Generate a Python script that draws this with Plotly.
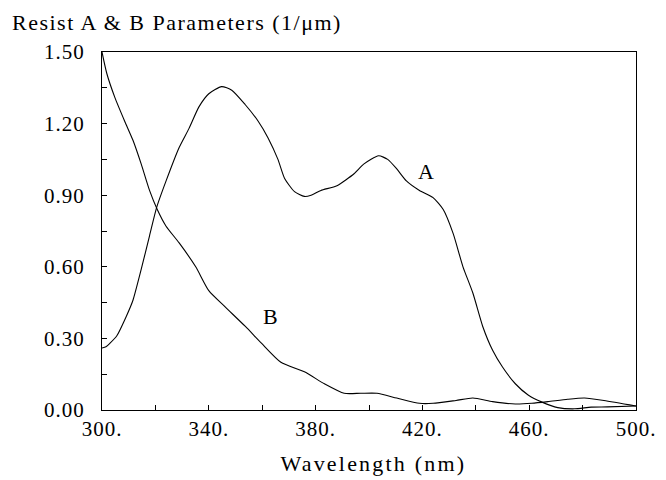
import plotly.graph_objects as go

# ---- data ----
wl_a = [300, 301.5, 303, 305.5, 309, 311.6, 314.7, 317.8, 320.5, 324, 328.9, 332.6, 336.3, 340,
        344.8, 348.6, 353.6, 358.5, 362.2, 365.9, 368.4, 372.1, 375.8, 378.3, 382, 388, 394.4,
        398, 403.6, 407, 410.4, 414, 418.9, 424, 427.8, 431.5, 435.2, 438.9, 442.6, 446.3, 450,
        454.8, 459.6, 464.8, 470.7, 477, 483.2, 489.3, 500]
res_a = [0.26, 0.265, 0.28, 0.31, 0.39, 0.46, 0.59, 0.73, 0.85, 0.96, 1.10, 1.18, 1.27, 1.325,
         1.355, 1.34, 1.28, 1.21, 1.14, 1.05, 0.97, 0.915, 0.895, 0.90, 0.92, 0.94, 0.99,
         1.03, 1.065, 1.05, 1.01, 0.96, 0.92, 0.89, 0.84, 0.74, 0.60, 0.49, 0.35, 0.25, 0.18,
         0.11, 0.063, 0.033, 0.01, 0.005, 0.012, 0.013, 0.017]

wl_b = [300, 301.8, 304.8, 308.5, 311.6, 314.7, 317.8, 320.7, 324, 328.9, 335.1, 340, 346.3,
        353.7, 359.7, 367, 375.8, 383.3, 390.7, 396.9, 403, 410.4, 418.9, 424, 432.6, 438.9,
        446.3, 454.8, 461, 467, 474.4, 480.7, 488, 500]
res_b = [1.50, 1.41, 1.31, 1.21, 1.13, 1.03, 0.92, 0.84, 0.77, 0.70, 0.60, 0.50, 0.43,
         0.35, 0.28, 0.20, 0.16, 0.11, 0.07, 0.07, 0.07, 0.05, 0.028, 0.028, 0.04, 0.05,
         0.035, 0.025, 0.028, 0.035, 0.045, 0.05, 0.04, 0.017]

x_tick_vals = [300, 340, 380, 420, 460, 500]
x_tick_text = ["300.", "340.", "380.", "420.", "460.", "500."]
y_tick_vals = [0.0, 0.3, 0.6, 0.9, 1.2, 1.5]
y_tick_text = ["0.00", "0.30", "0.60", "0.90", "1.20", "1.50"]

curve_labels = ["A", "B"]
label_x = [421.5, 363]
label_y = [1.0, 0.39]

title_text = "Resist A & B Parameters (1/μm)"
x_title_text = "Wavelength (nm)"

FONT = "Liberation Serif, Times New Roman, serif"

fig = go.Figure()
fig.add_trace(go.Scatter(x=wl_a, y=res_a, mode="lines", line=dict(color="black", width=1.1, shape="spline", smoothing=0.6),
                         name="A", showlegend=False, hoverinfo="skip"))
fig.add_trace(go.Scatter(x=wl_b, y=res_b, mode="lines", line=dict(color="black", width=1.1, shape="spline", smoothing=0.6),
                         name="B", showlegend=False, hoverinfo="skip"))

for t, xv, yv in zip(curve_labels, label_x, label_y):
    fig.add_annotation(x=xv, y=yv, xref="x", yref="y", text=t, showarrow=False,
                       font=dict(family=FONT, size=22, color="black"))

fig.add_annotation(x=0.5 + 5 / 540, y=-(463 - 410) / 358, xref="paper", yref="paper", text=x_title_text,
                   showarrow=False, xanchor="center", yanchor="middle",
                   font=dict(family=FONT, size=22, color="black"))

fig.update_layout(
    width=666, height=480,
    margin=dict(l=102, r=24, t=52, b=70),
    paper_bgcolor="white", plot_bgcolor="white",
    font=dict(family=FONT, size=21, color="black"),
    title=dict(text=title_text, x=12 / 666, xanchor="left", xref="container",
               y=1 - 22 / 480, yanchor="middle", yref="container",
               font=dict(family=FONT, size=22, color="black")),
    showlegend=False,
)
fig.update_xaxes(range=[300, 500], showgrid=False, zeroline=False,
                 showline=True, linecolor="black", linewidth=1.2, mirror=True,
                 tickmode="array", tickvals=x_tick_vals, ticktext=x_tick_text,
                 ticks="inside", ticklen=5, tickcolor="black", tickwidth=1,
                 minor=dict(dtick=20, tick0=300, ticks="inside", ticklen=5, tickcolor="black", tickwidth=1),
                 tickfont=dict(family=FONT, size=21, color="black"))
fig.update_yaxes(range=[0, 1.5], showgrid=False, zeroline=False,
                 showline=True, linecolor="black", linewidth=1.2, mirror=True,
                 tickmode="array", tickvals=y_tick_vals, ticktext=y_tick_text,
                 ticks="inside", ticklen=5, tickcolor="black", tickwidth=1,
                 minor=dict(dtick=0.15, tick0=0, ticks="inside", ticklen=5, tickcolor="black", tickwidth=1),
                 ticklabelstandoff=12,
                 tickfont=dict(family=FONT, size=21, color="black"))

post_js = """
var gd = document.getElementById('{plot_id}');
function spacing(){
  gd.querySelectorAll('.gtitle').forEach(function(t){ t.style.letterSpacing = '1.5px'; });
  gd.querySelectorAll('.xtick text, .ytick text').forEach(function(t){ t.style.letterSpacing = '1px'; });
  gd.querySelectorAll('.annotation-text').forEach(function(t){
    if (t.textContent.indexOf('Wavelength') >= 0) { t.style.letterSpacing = '2.2px'; }
  });
}
spacing();
gd.on('plotly_afterplot', spacing);
"""

fig.write_html("out.html", post_script=post_js)
